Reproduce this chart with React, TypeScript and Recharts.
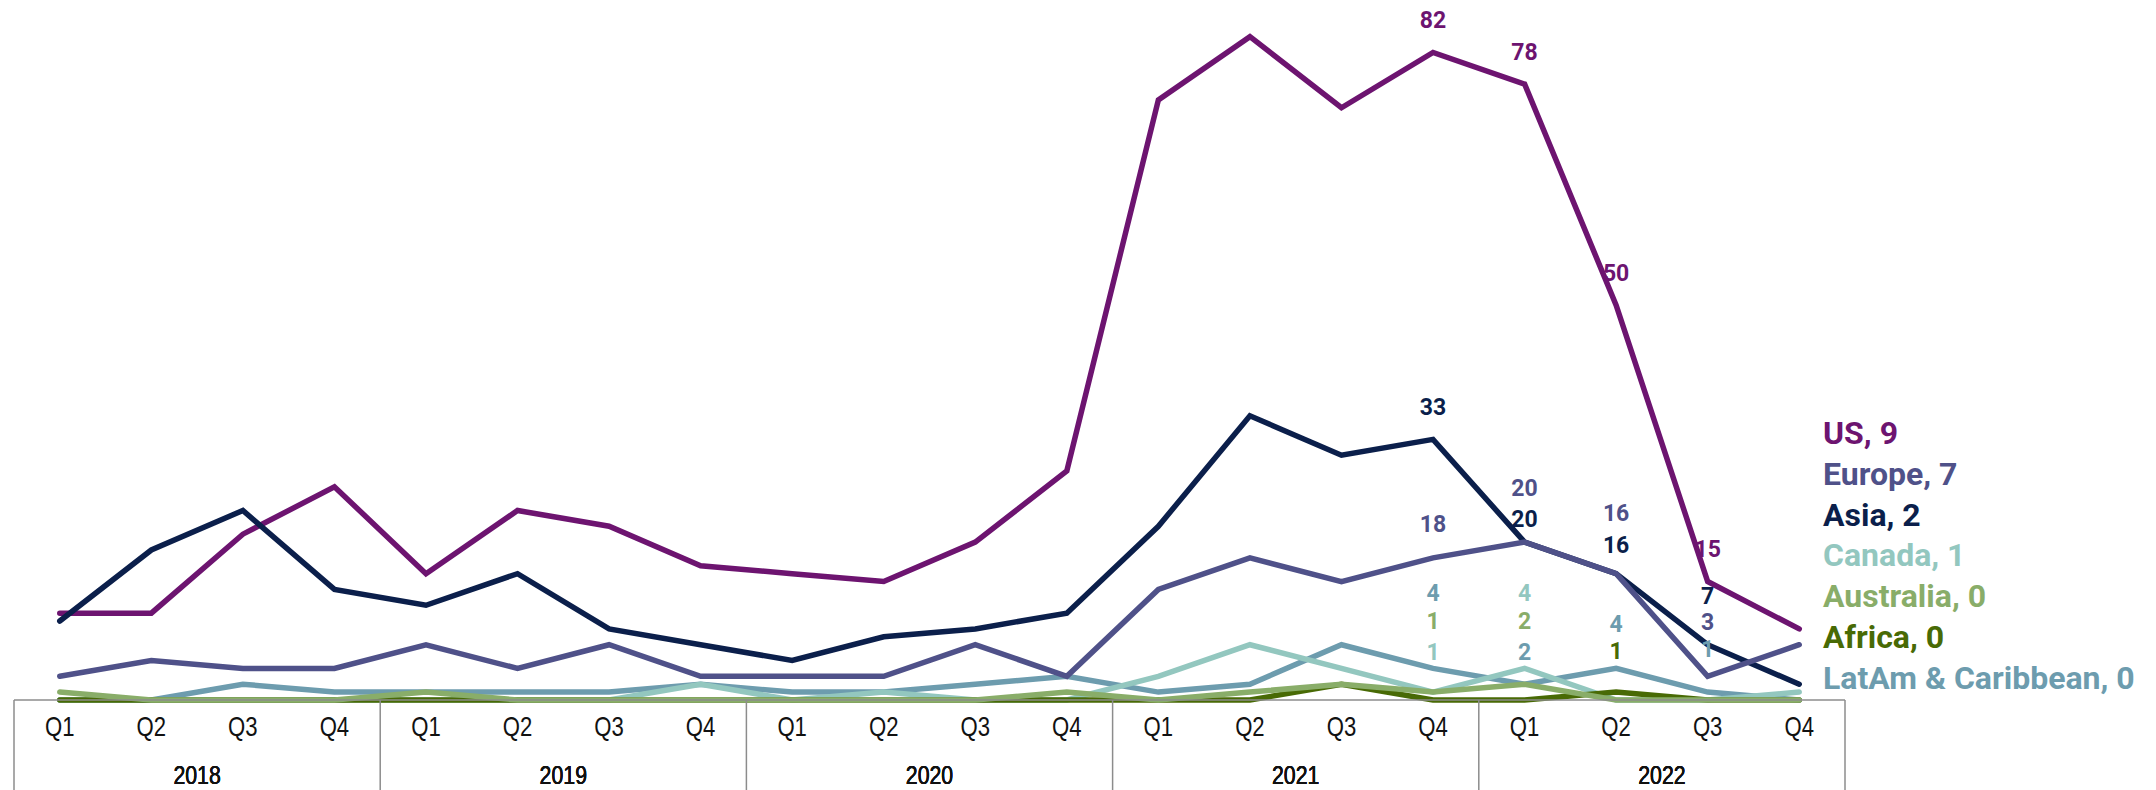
import React from 'react';
import { LineChart, Line, XAxis, YAxis, LabelList } from 'recharts';

const quarterLabels = [
  'Q1', 'Q2', 'Q3', 'Q4',
  'Q1', 'Q2', 'Q3', 'Q4',
  'Q1', 'Q2', 'Q3', 'Q4',
  'Q1', 'Q2', 'Q3', 'Q4',
  'Q1', 'Q2', 'Q3', 'Q4',
];
const yearLabels = [
  '2018', '2018', '2018', '2018',
  '2019', '2019', '2019', '2019',
  '2020', '2020', '2020', '2020',
  '2021', '2021', '2021', '2021',
  '2022', '2022', '2022', '2022',
];

const usValues = [11, 11, 21, 27, 16, 24, 22, 17, 16, 15, 20, 29, 76, 84, 75, 82, 78, 50, 15, 9];
const europeValues = [3, 5, 4, 4, 7, 4, 7, 3, 3, 3, 7, 3, 14, 18, 15, 18, 20, 16, 3, 7];
const asiaValues = [10, 19, 24, 14, 12, 16, 9, 7, 5, 8, 9, 11, 22, 36, 31, 33, 20, 16, 7, 2];
const canadaValues = [0, 0, 0, 0, 0, 0, 0, 2, 0, 1, 0, 0, 3, 7, 4, 1, 4, 0, 0, 1];
const australiaValues = [1, 0, 0, 0, 1, 0, 0, 0, 0, 0, 0, 1, 0, 1, 2, 1, 2, 0, 0, 0];
const africaValues = [0, 0, 0, 0, 0, 0, 0, 0, 0, 0, 0, 0, 0, 0, 2, 0, 0, 1, 0, 0];
const latamValues = [0, 0, 2, 1, 1, 1, 1, 2, 1, 1, 2, 3, 1, 2, 7, 4, 2, 4, 1, 0];

// drawing order (last one on top)
const series = [
  { key: 'latam', name: 'LatAm & Caribbean', color: '#6d9cae', values: latamValues },
  { key: 'canada', name: 'Canada', color: '#93c7bf', values: canadaValues },
  { key: 'africa', name: 'Africa', color: '#486a05', values: africaValues },
  { key: 'australia', name: 'Australia', color: '#89ad69', values: australiaValues },
  { key: 'us', name: 'US', color: '#6d1470', values: usValues },
  { key: 'asia', name: 'Asia', color: '#0b1f4b', values: asiaValues },
  { key: 'europe', name: 'Europe', color: '#4f5189', values: europeValues },
];

const legendOrder = ['us', 'europe', 'asia', 'canada', 'australia', 'africa', 'latam'];

// which points get a value label, and how far above the point it sits (px)
const labelOffsets: Record<string, Record<number, number>> = {
  us: { 15: -32, 16: -32, 17: -32, 18: -32 },
  asia: { 15: -32, 16: -23, 17: -28, 18: -48 },
  europe: { 15: -33, 16: -54, 17: -60, 18: -54 },
  canada: { 15: -40, 16: -75 },
  australia: { 15: -71, 16: -63 },
  africa: { 17: -41 },
  latam: { 15: -75, 16: -32, 17: -44, 18: -43 },
};

const data = quarterLabels.map((q, i) => {
  const row: any = { id: `${yearLabels[i]} ${q}`, q, year: yearLabels[i] };
  series.forEach((s) => {
    row[s.key] = s.values[i];
  });
  return row;
});

const axisGrey = '#8c8c8c';
const axisFont = "'Liberation Sans', Arial, sans-serif";
const narrow = 0.82; // squeeze to look like Arial Narrow

const makeLabel = (key: string, color: string) => (props: any) => {
  const { index, value } = props;
  const dy = labelOffsets[key][index];
  if (dy === undefined) return null;
  const x = props.x ?? props.viewBox?.x;
  const y = props.y ?? props.viewBox?.y;
  return (
    <text
      x={x}
      y={y + dy}
      textAnchor="middle"
      dominantBaseline="central"
      fill={color}
      fontSize={23}
      fontWeight={700}
      fontFamily="Roboto, sans-serif"
    >
      {value}
    </text>
  );
};

const NarrowText = ({ x, y, size, children }: any) => (
  <text
    x={x / narrow}
    y={y}
    transform={`scale(${narrow},1)`}
    textAnchor="middle"
    fill="#111"
    fontSize={size}
    fontFamily={axisFont}
  >
    {children}
  </text>
);

const QuarterTick = (props: any) => {
  const { x, y, payload } = props;
  const half = payload?.offset || 45.8;
  const i = payload?.index ?? props.index;
  return (
    <g>
      <NarrowText x={x} y={y + 36.5} size={27}>{quarterLabels[i]}</NarrowText>
      {i % 4 === 0 && (
        <line x1={x - half} x2={x - half} y1={y} y2={y + 90} stroke={axisGrey} strokeWidth={1.5} />
      )}
      {i === quarterLabels.length - 1 && (
        <line x1={x + half} x2={x + half} y1={y} y2={y + 90} stroke={axisGrey} strokeWidth={1.5} />
      )}
    </g>
  );
};

const YearTick = (props: any) => {
  const { x, y, payload } = props;
  return <NarrowText x={x} y={y + 34.5} size={26}>{payload.value}</NarrowText>;
};

export default function App() {
  const legendItems = legendOrder.map((k) => series.find((s) => s.key === k)!);
  return (
    <div style={{ position: 'relative', width: 2148, height: 782 }}>
      <LineChart
        width={2148}
        height={782}
        data={data}
        margin={{ top: 5, right: 311, bottom: 0, left: 6 }}
      >
        <YAxis hide domain={[0, 87]} />
        <XAxis
          xAxisId="q"
          dataKey="id"
          scale="band"
          interval={0}
          height={50}
          tickSize={0}
          tickMargin={0}
          tickLine={false}
          axisLine={{ stroke: axisGrey, strokeWidth: 1.5 }}
          tick={<QuarterTick />}
        />
        <XAxis
          xAxisId="year"
          dataKey="year"
          scale="band"
          allowDuplicatedCategory={false}
          interval={0}
          height={40}
          tickSize={0}
          tickMargin={0}
          tickLine={false}
          axisLine={false}
          tick={<YearTick />}
        />
        {series.map((s) => (
          <Line
            key={s.key}
            xAxisId="q"
            type="linear"
            dataKey={s.key}
            stroke={s.color}
            strokeWidth={5.5}
            strokeLinecap="round"
            dot={false}
            activeDot={false}
            isAnimationActive={false}
          >
            <LabelList dataKey={s.key} content={makeLabel(s.key, s.color)} />
          </Line>
        ))}
      </LineChart>
      <div
        style={{
          position: 'absolute',
          left: 1815,
          top: 405,
          fontFamily: 'Roboto, sans-serif',
          fontWeight: 700,
          fontSize: 32,
          lineHeight: '40.8px',
          whiteSpace: 'nowrap',
        }}
      >
        {legendItems.map((s) => (
          <div key={s.key} style={{ color: s.color, height: 40.8 }}>
            {s.name}, {s.values[s.values.length - 1]}
          </div>
        ))}
      </div>
    </div>
  );
}
